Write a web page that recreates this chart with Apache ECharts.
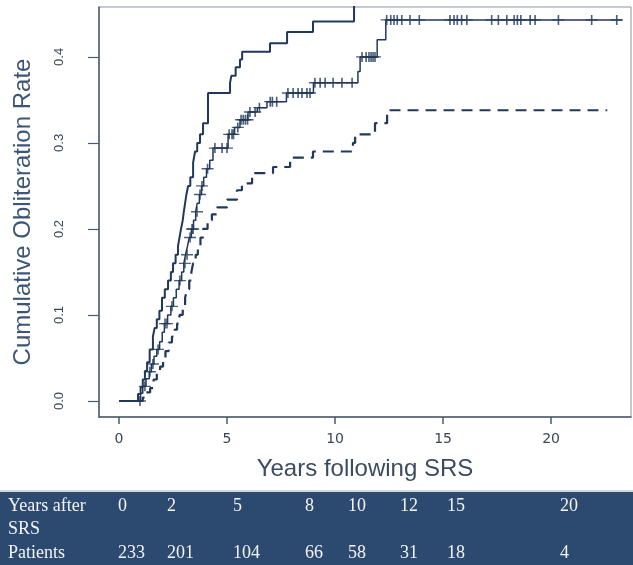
<!DOCTYPE html>
<html>
<head>
<meta charset="utf-8">
<script src="https://cdn.jsdelivr.net/npm/echarts@6/dist/echarts.min.js"></script>
<style>
html,body{margin:0;padding:0;background:#fff;}
#c{width:633px;height:565px;}
</style>
</head>
<body>
<div id="c"></div>
<script>
// ---- data ----
var xTicks = [0, 5, 10, 15, 20];
var yTicks = [0, 0.1, 0.2, 0.3, 0.4];

// estimate (middle curve, with censoring marks)
var estimate = [[0,0],[1.0,0.009],[1.1,0.017],[1.25,0.026],[1.4,0.034],[1.5,0.043],[1.62,0.052],[1.75,0.06],[1.88,0.069],[2.0,0.08],[2.1,0.09],[2.25,0.1],[2.4,0.11],[2.52,0.12],[2.65,0.13],[2.78,0.14],[2.9,0.15],[3.0,0.16],[3.08,0.17],[3.17,0.18],[3.25,0.19],[3.35,0.2],[3.45,0.21],[3.55,0.22],[3.62,0.23],[3.72,0.24],[3.82,0.25],[3.92,0.26],[4.05,0.27],[4.2,0.28],[4.35,0.294],[5.05,0.31],[5.35,0.318],[5.6,0.327],[5.97,0.336],[6.4,0.341],[6.85,0.348],[7.75,0.358],[9.0,0.37],[11.06,0.383],[11.16,0.4],[11.95,0.42],[12.35,0.443],[23.3,0.443]];

// upper confidence bound (solid)
var upper = [[0,0],[0.88,0.008],[1.0,0.016],[1.1,0.025],[1.2,0.035],[1.3,0.045],[1.42,0.06],[1.57,0.075],[1.65,0.085],[1.75,0.095],[1.87,0.105],[1.99,0.12],[2.12,0.13],[2.27,0.14],[2.4,0.15],[2.5,0.16],[2.62,0.17],[2.73,0.18],[2.8,0.19],[2.87,0.2],[2.95,0.21],[3.0,0.22],[3.06,0.23],[3.12,0.24],[3.2,0.25],[3.3,0.26],[3.43,0.277],[3.52,0.29],[3.62,0.3],[3.75,0.31],[3.89,0.323],[4.12,0.358],[5.14,0.37],[5.2,0.378],[5.4,0.388],[5.6,0.397],[5.7,0.406],[6.99,0.416],[7.78,0.429],[8.98,0.441],[10.88,0.5],[23.3,0.5]];

// lower confidence bound (dashed)
var lower = [[0,0],[1.1,0.004],[1.25,0.01],[1.44,0.015],[1.6,0.025],[1.75,0.033],[1.9,0.04],[2.04,0.048],[2.15,0.058],[2.3,0.068],[2.45,0.075],[2.58,0.083],[2.69,0.09],[2.8,0.1],[2.95,0.11],[3.06,0.12],[3.15,0.13],[3.25,0.14],[3.35,0.15],[3.43,0.16],[3.55,0.17],[3.65,0.18],[3.77,0.19],[3.89,0.2],[4.1,0.21],[4.3,0.217],[4.54,0.225],[5.0,0.234],[5.46,0.245],[5.69,0.253],[6.16,0.265],[7.13,0.272],[7.92,0.283],[8.98,0.29],[10.83,0.3],[10.93,0.31],[11.85,0.323],[12.41,0.338],[22.6,0.338]];

// censoring times (years) on the estimate curve
var censorYears = [0.97,1.2,1.43,1.57,1.81,2.13,2.22,2.45,2.82,3.05,3.15,3.29,3.38,3.43,3.61,3.75,3.84,4.1,4.44,4.77,5.0,5.1,5.23,5.3,5.5,5.65,5.75,5.85,5.95,6.06,6.3,6.5,7.0,7.1,7.3,7.82,8.06,8.29,8.47,8.7,8.84,9.07,9.31,9.54,9.91,10.32,10.79,11.25,11.44,11.57,11.67,11.76,11.85,12.39,12.58,12.73,12.88,13.09,13.47,13.9,15.32,15.51,15.66,15.86,16.1,17.25,17.56,17.95,18.29,18.44,18.6,19.03,19.26,20.34,21.88,23.04];

// risk table
var tableYears = ['0','2','5','8','10','12','15','20'];
var tablePatients = ['233','201','104','66','58','31','18','4'];

// ---- build ----
function stepValue(steps, t){
  var v = 0;
  for (var i = 0; i < steps.length; i++){ if (steps[i][0] <= t) v = steps[i][1]; }
  return v;
}
var censorPts = censorYears.map(function(t){ return [t, stepValue(estimate, t)]; });

var lineColor = '#22385a';
var colX = [118,167,233,305,348,400,447,560];
var tableFont = '18px "Liberation Serif", "Times New Roman", serif';
var graphics = [
  {type:'rect', shape:{x:0,y:492,width:633,height:73}, style:{fill:'#2c4a6f'}, silent:true},
  {type:'rect', shape:{x:0,y:490,width:633,height:2}, style:{fill:'#cfd6de'}, silent:true},
  {type:'text', x:8, y:506, style:{text:'Years after', font:tableFont, fill:'#f4f4f4', textVerticalAlign:'middle'}},
  {type:'text', x:8, y:529, style:{text:'SRS', font:tableFont, fill:'#f4f4f4', textVerticalAlign:'middle'}},
  {type:'text', x:8, y:553, style:{text:'Patients', font:tableFont, fill:'#f4f4f4', textVerticalAlign:'middle'}}
];
tableYears.forEach(function(s,i){
  graphics.push({type:'text', x:colX[i], y:506, style:{text:s, font:tableFont, fill:'#f4f4f4', textVerticalAlign:'middle'}});
});
tablePatients.forEach(function(s,i){
  graphics.push({type:'text', x:colX[i], y:553, style:{text:s, font:tableFont, fill:'#f4f4f4', textVerticalAlign:'middle'}});
});

var chart = echarts.init(document.getElementById('c'), null, {renderer:'canvas'});
chart.setOption({
  animation:false,
  backgroundColor:'#ffffff',
  grid:{left:99, top:7, width:532, height:410, show:true, borderColor:'#8b95a1', borderWidth:1, backgroundColor:'transparent'},
  xAxis:{
    type:'value', min:-0.926, max:23.7,
    name:'Years following SRS', nameLocation:'middle', nameGap:40,
    nameTextStyle:{fontFamily:'Liberation Sans, Arial, sans-serif', fontSize:24, color:'#3c4b60'},
    axisLine:{show:true, onZero:false, lineStyle:{color:'#4d5b6c', width:1.5}},
    axisTick:{show:true, length:7, customValues:xTicks, lineStyle:{color:'#4d5b6c', width:1.5}},
    axisLabel:{customValues:xTicks, margin:15, fontFamily:'DejaVu Sans, sans-serif', fontSize:14, color:'#3a4657'},
    splitLine:{show:false}
  },
  yAxis:{
    type:'value', min:-0.0186, max:0.458,
    name:'Cumulative Obliteration Rate', nameLocation:'middle', nameGap:64, nameRotate:90,
    nameTextStyle:{fontFamily:'Liberation Sans, Arial, sans-serif', fontSize:24, color:'#3d5678'},
    axisLine:{show:true, onZero:false, lineStyle:{color:'#4d5b6c', width:1.5}},
    axisTick:{show:true, length:11, customValues:yTicks, lineStyle:{color:'#4d5b6c', width:1.2}},
    axisLabel:{customValues:yTicks, rotate:90, margin:33, fontFamily:'Liberation Sans, Arial, sans-serif', fontSize:13, color:'#3a4657',
      formatter:function(v){ return v.toFixed(1); }},
    splitLine:{show:false}
  },
  series:[
    {type:'line', step:'end', data:upper, symbol:'none', clip:true, lineStyle:{color:lineColor, width:2}},
    {type:'line', step:'end', data:estimate, symbol:'none', clip:true, lineStyle:{color:lineColor, width:1.5}},
    {type:'line', step:'end', data:lower, symbol:'none', clip:true, lineStyle:{color:lineColor, width:2.2, type:[11,7]}},
    {type:'scatter', data:censorPts, symbol:'path://M5,0 L5,10 M0,5 L10,5', symbolSize:[12,10], clip:true,
      itemStyle:{color:'rgba(0,0,0,0)', borderColor:lineColor, borderWidth:1.5}}
  ],
  graphic:graphics
});
</script>
</body>
</html>
